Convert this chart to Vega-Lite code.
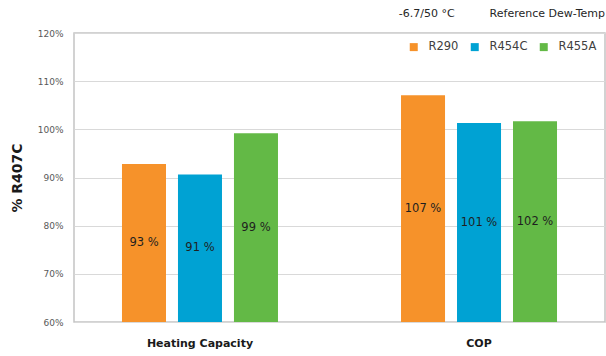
{
  "$schema": "https://vega.github.io/schema/vega-lite/v6.json",
  "width": 531,
  "height": 289,
  "autosize": {"type": "none"},
  "padding": {"left": 74, "top": 33, "right": 1, "bottom": 34},
  "background": "white",
  "config": {
    "font": "DejaVu Sans",
    "view": {"stroke": "#c4c4c4", "strokeWidth": 1.5}
  },
  "title": {
    "text": "-6.7/50 °C\u00a0\u00a0\u00a0\u00a0\u00a0\u00a0\u00a0\u00a0\u00a0\u00a0Reference Dew-Temp",
    "anchor": "end",
    "frame": "group",
    "fontSize": 11,
    "fontWeight": "normal",
    "color": "#262626",
    "offset": 10
  },
  "data": {
    "values": [
      {"metric": "Heating Capacity", "refrigerant": "R290", "value": 92.8},
      {"metric": "Heating Capacity", "refrigerant": "R454C", "value": 90.6},
      {"metric": "Heating Capacity", "refrigerant": "R455A", "value": 99.2},
      {"metric": "COP", "refrigerant": "R290", "value": 107.1},
      {"metric": "COP", "refrigerant": "R454C", "value": 101.3},
      {"metric": "COP", "refrigerant": "R455A", "value": 101.7}
    ]
  },
  "transform": [
    {"calculate": "(datum.value + 60) / 2", "as": "mid"},
    {"calculate": "format(datum.value, '.0f') + ' %'", "as": "label"}
  ],
  "encoding": {
    "x": {
      "field": "metric",
      "type": "nominal",
      "sort": ["Heating Capacity", "COP"],
      "scale": {"paddingInner": 0.097, "paddingOuter": 0},
      "axis": {
        "title": null,
        "labelAngle": 0,
        "labelFontSize": 11,
        "labelFontWeight": "bold",
        "labelColor": "#1a1a1a",
        "labelPadding": 15,
        "ticks": false,
        "domain": false
      }
    },
    "xOffset": {
      "field": "refrigerant",
      "type": "nominal",
      "sort": ["R290", "R454C", "R455A"],
      "scale": {"paddingInner": 0.214, "paddingOuter": 0.857}
    }
  },
  "layer": [
    {
      "mark": {"type": "bar"},
      "encoding": {
        "y": {
          "field": "value",
          "type": "quantitative",
          "scale": {"domain": [60, 120], "nice": false, "zero": false},
          "axis": {
            "title": "% R407C",
            "titleFontSize": 14,
            "titleFontWeight": "bold",
            "titleColor": "#1a1a1a",
            "titlePadding": 13,
            "values": [60, 70, 80, 90, 100, 110, 120],
            "labelExpr": "datum.value + '%'",
            "labelFontSize": 9,
            "labelColor": "#595959",
            "labelPadding": 11,
            "ticks": false,
            "domain": false,
            "gridColor": "#d9d9d9",
            "gridWidth": 1
          }
        },
        "y2": {"datum": 60},
        "color": {
          "field": "refrigerant",
          "type": "nominal",
          "sort": ["R290", "R454C", "R455A"],
          "scale": {"domain": ["R290", "R454C", "R455A"], "range": ["#f6922a", "#00a2d3", "#63b946"]},
          "legend": {
            "title": null,
            "orient": "top-right",
            "direction": "horizontal",
            "offset": 8,
            "symbolType": "square",
            "symbolSize": 64,
            "symbolStrokeWidth": 0,
            "labelFontSize": 11.5,
            "labelColor": "#404040",
            "columnPadding": 10,
            "labelOffset": 9
          }
        }
      }
    },
    {
      "mark": {"type": "text", "fontSize": 11.5, "color": "#1f1f1f", "baseline": "middle"},
      "encoding": {
        "y": {"field": "mid", "type": "quantitative"},
        "text": {"field": "label"}
      }
    }
  ]
}
